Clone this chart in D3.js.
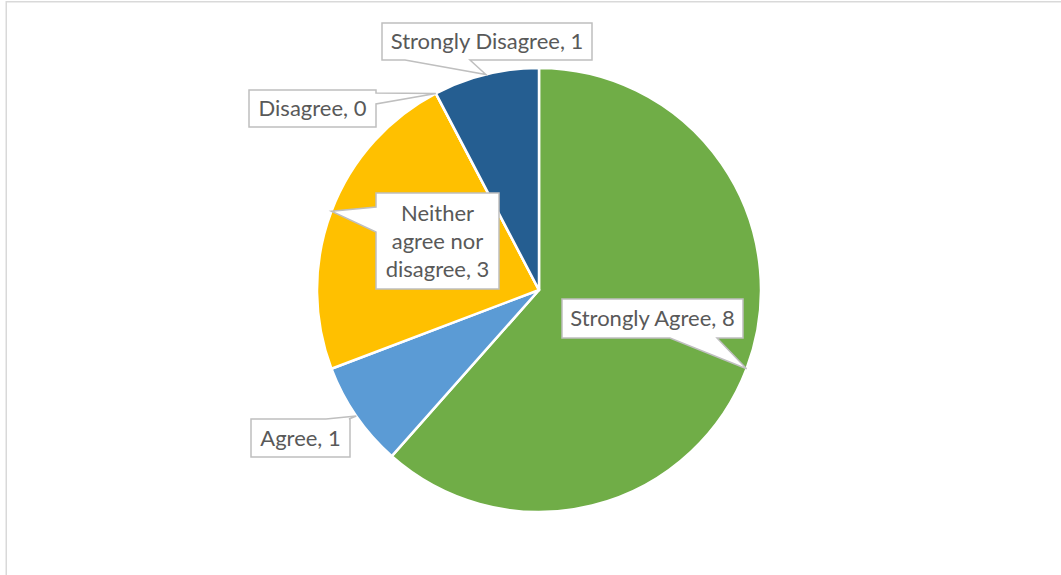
<!DOCTYPE html>
<html>
<head>
<meta charset="utf-8">
<script src="https://cdn.jsdelivr.net/npm/d3@7"></script>
<style>
  body { margin: 0; background: #fff; }
  svg { display: block; }
</style>
</head>
<body>
<svg width="1061" height="575"></svg>
<script>
var categories = ["Strongly Agree", "Agree", "Neither agree nor disagree", "Disagree", "Strongly Disagree"];
var counts     = [8, 1, 3, 0, 1];
var colors     = ["#70AD47", "#5B9BD5", "#FFC000", "#A5A5A5", "#255E91"];
var labelLines = [["Strongly Agree, 8"], ["Agree, 1"], ["Neither", "agree nor", "disagree, 3"], ["Disagree, 0"], ["Strongly Disagree, 1"]];

// label boxes: where each callout sits and which edge its pointer leaves from
var boxes = [
  {x: 562, y: 299, w: 181, h: 39, side: "bottom", a: 670, b: 717},
  {x: 251, y: 419, w: 99,  h: 38, side: "top",    a: 326, b: 349},
  {x: 376, y: 193, w: 123, h: 96, side: "left",   a: 207, b: 232},
  {x: 249, y: 90,  w: 127, h: 37, side: "right",  a: 93,  b: 104},
  {x: 382, y: 23,  w: 210, h: 37, side: "bottom", a: 405, b: 470}
];

var svg = d3.select("svg"),
    cx = 539, cy = 290, r = 222;

svg.append("rect")
  .attr("x", 6.25).attr("y", 1.75)
  .attr("width", 1200).attr("height", 700)
  .attr("fill", "none")
  .attr("stroke", "#d9d9d9")
  .attr("stroke-width", 1.5);

var pie = d3.pie().sort(null).value(d => d),
    arcs = pie(counts),
    arc = d3.arc().innerRadius(0).outerRadius(r),
    edge = d3.arc().innerRadius(r).outerRadius(r);

var g = svg.append("g").attr("transform", "translate(" + cx + "," + cy + ")");

g.selectAll(".slice")
  .data(arcs)
  .enter().append("path")
    .attr("class", "slice")
    .attr("d", arc)
    .attr("fill", (d, i) => colors[i])
    .attr("stroke", "#fff")
    .attr("stroke-width", 2.5)
    .attr("stroke-linejoin", "round");

function callout(b, tip) {
  var x0 = b.x, y0 = b.y, x1 = b.x + b.w, y1 = b.y + b.h, p = [];
  p.push([x0, y0]);
  if (b.side == "top") p.push([b.a, y0], tip, [b.b, y0]);
  p.push([x1, y0]);
  if (b.side == "right") p.push([x1, b.a], tip, [x1, b.b]);
  p.push([x1, y1]);
  if (b.side == "bottom") p.push([b.b, y1], tip, [b.a, y1]);
  p.push([x0, y1]);
  if (b.side == "left") p.push([x0, b.b], tip, [x0, b.a]);
  return "M" + p.map(q => q[0] + "," + q[1]).join("L") + "Z";
}

var labels = svg.selectAll(".label")
  .data(arcs)
  .enter().append("g")
    .attr("class", "label");

labels.append("path")
  .attr("d", (d, i) => {
    var c = edge.centroid(d);
    return callout(boxes[i], [cx + c[0], cy + c[1]]);
  })
  .attr("fill", "#fff")
  .attr("stroke", "#bfbfbf")
  .attr("stroke-width", 1.5)
  .attr("stroke-linejoin", "miter");

labels.each(function(d, i) {
  var b = boxes[i], lines = labelLines[i], lh = 28,
      top = b.y + b.h / 2 - (lines.length - 1) * lh / 2;
  d3.select(this).selectAll("text")
    .data(lines)
    .enter().append("text")
      .attr("x", b.x + b.w / 2)
      .attr("y", (t, j) => top + j * lh)
      .attr("dy", "0.35em")
      .attr("text-anchor", "middle")
      .attr("fill", "#595959")
      .style("font-family", "Lato, 'Open Sans', sans-serif")
      .style("font-size", "22px")
      .text(t => t);
});
</script>
</body>
</html>
